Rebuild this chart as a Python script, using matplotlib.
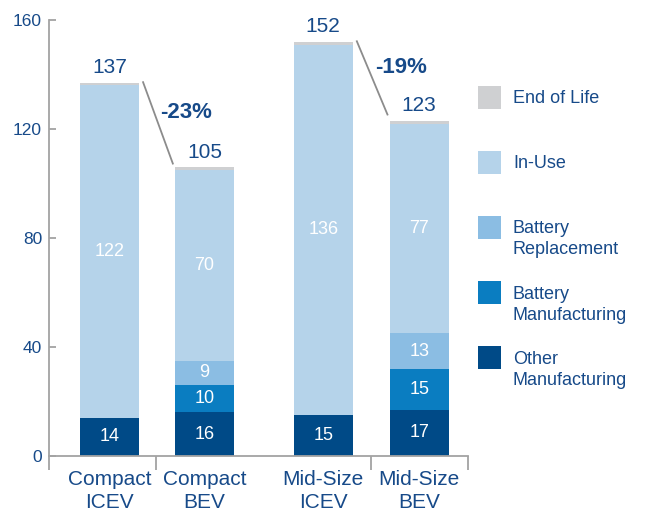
import matplotlib.pyplot as plt
from matplotlib.patches import Rectangle

plt.rcParams['font.family'] = ['Liberation Sans', 'DejaVu Sans']

categories = ['Compact\nICEV', 'Compact\nBEV', 'Mid-Size\nICEV', 'Mid-Size\nBEV']
other_mfg = [14, 16, 15, 17]
battery_mfg = [0, 10, 0, 15]
battery_repl = [0, 9, 0, 13]
in_use = [122, 70, 136, 77]
end_of_life = [1, 1, 1, 1]
totals = [137, 105, 152, 123]
changes = ['-23%', '-19%']

legend_labels = ['End of Life', 'In-Use', 'Battery\nReplacement',
                 'Battery\nManufacturing', 'Other\nManufacturing']

TEXT = '#174a89'
GREY = '#a3a3a3'
colors = {
    'eol': '#cfd0d2',
    'use': '#b5d3ea',
    'repl': '#8bbde3',
    'bmfg': '#0a7dc1',
    'omfg': '#004a87',
}


def main():
	fig = plt.figure(figsize=(6.5, 5.12), dpi=100)
	ax = fig.add_axes([49 / 650, 1 - 456 / 512, (468 - 49) / 650, (456 - 20) / 512])

	xs = [0, 1, 2.25, 3.26]
	width = 0.62
	stack = [(other_mfg, colors['omfg']), (battery_mfg, colors['bmfg']),
	         (battery_repl, colors['repl']), (in_use, colors['use']),
	         (end_of_life, colors['eol'])]
	bottoms = [0] * len(xs)
	for i, (vals, col) in enumerate(stack):
		ax.bar(xs, vals, width, bottom=bottoms, color=col, linewidth=0)
		if i < 4:
			for x, v, b in zip(xs, vals, bottoms):
				if v > 0:
					ax.text(x, b + v / 2, str(v), color='white', fontsize=13,
					        ha='center', va='center')
		bottoms = [b + v for b, v in zip(bottoms, vals)]

	for x, t, top in zip(xs, totals, bottoms):
		ax.annotate(str(t), (x, top), xytext=(0, 4), textcoords='offset points',
		            ha='center', va='bottom', fontsize=15, color=TEXT)

	# change lines and percentages between ICEV and BEV
	for k, pct in enumerate(changes):
		a, b = 2 * k, 2 * k + 1
		ax.plot([xs[a] + 0.35, xs[b] - 0.33], [totals[a] + 0.5, totals[b] + 2],
		        color='#8c8c8c', linewidth=1.3, solid_capstyle='butt')
		ax.text((xs[a] + xs[b]) / 2 + 0.31, (totals[a] + totals[b]) / 2 + 5, pct,
		        ha='center', va='center', fontsize=16, fontweight='bold', color=TEXT)

	for x, lab in zip(xs, categories):
		ax.text(x, -5.0, lab, ha='center', va='top', fontsize=15, color=TEXT,
		        linespacing=1.32)

	ax.set_xlim(-0.637, 3.774)
	ax.set_ylim(0, 160)
	ax.set_yticks([0, 40, 80, 120, 160])
	ax.set_xticks([-0.637, 0.49, 2.75, 3.774])
	ax.set_xticklabels([])
	ax.tick_params(axis='y', direction='in', length=5, width=1.3, color=GREY,
	               labelsize=12.5, labelcolor=TEXT, pad=5)
	ax.tick_params(axis='x', direction='out', length=10, width=1.3, color=GREY)
	for s in ['top', 'right']:
		ax.spines[s].set_visible(False)
	for s in ['left', 'bottom']:
		ax.spines[s].set_color(GREY)
		ax.spines[s].set_linewidth(1.3)

	# legend drawn by hand so squares line up with the first text line
	leg_colors = [colors['eol'], colors['use'], colors['repl'], colors['bmfg'], colors['omfg']]
	for i, (lab, col) in enumerate(zip(legend_labels, leg_colors)):
		cy = 97 + 65.2 * i
		fig.patches.append(Rectangle((478 / 650, 1 - (cy + 11.5) / 512), 23 / 650, 23 / 512,
		                             transform=fig.transFigure, color=col, linewidth=0))
		fig.text(513 / 650, 1 - (cy - 7) / 512, lab, ha='left', va='top',
		         fontsize=13, color=TEXT, linespacing=1.3)

	fig.savefig('out.png', dpi=100)


if __name__ == "__main__":
	main()
